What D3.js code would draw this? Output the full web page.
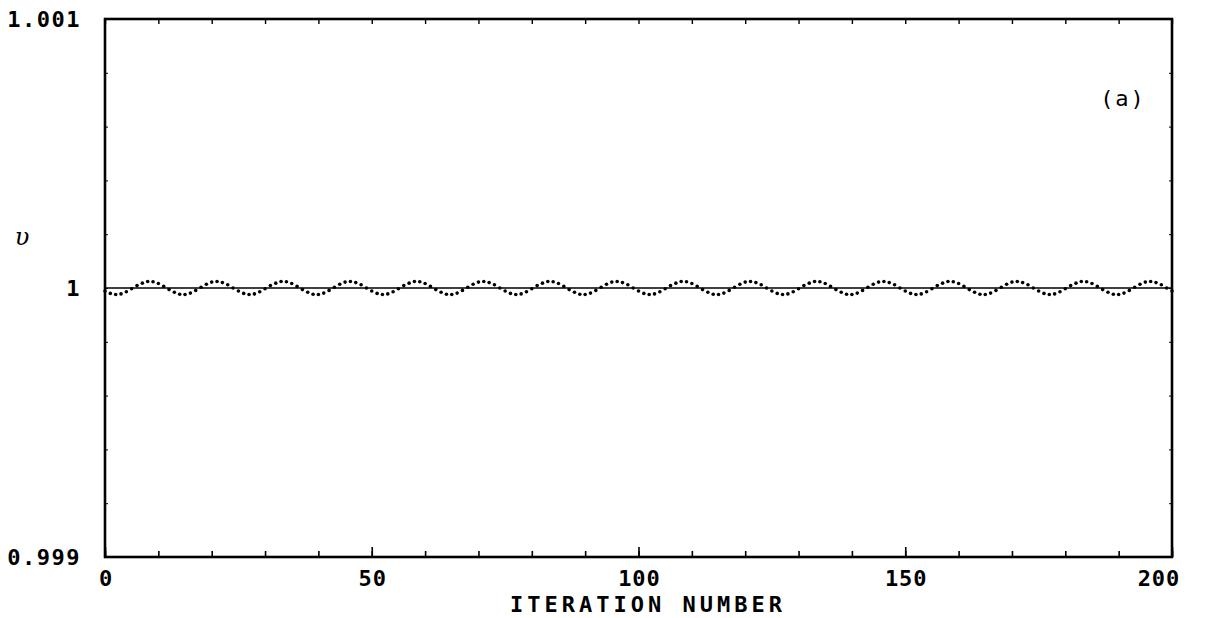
<!DOCTYPE html>
<html>
<head>
<meta charset="utf-8">
<script src="https://cdn.jsdelivr.net/npm/d3@7"></script>
<style>
  html, body { margin: 0; padding: 0; background: #fff; }
  text { font-family: "DejaVu Sans Mono", "Liberation Mono", monospace; fill: #000; }
</style>
</head>
<body>
<svg id="chart" width="1208" height="618"></svg>
<script>
// ---- data ----
const xTickValues = [0, 50, 100, 150, 200];
const xTickLabels = ["0", "50", "100", "150", "200"];
const yTickValues = [0.999, 1, 1.001];
const yTickLabels = ["0.999", "1", "1.001"];
const referenceLevel = [1, 1];            // solid line at nu = 1 (from iteration 0 to 200)
const referenceIters = [0, 200];
// nu at each iteration 0..200 (dotted curve)
const nuValues = [
  0.999989, 0.999980, 0.999976, 0.999978, 0.999986, 0.999997, 1.000009, 1.000018, 1.000024, 1.000023,
  1.000017, 1.000006, 0.999994, 0.999984, 0.999977, 0.999976, 0.999981, 0.999991, 1.000003, 1.000014,
  1.000022, 1.000024, 1.000020, 1.000012, 1.000000, 0.999989, 0.999980, 0.999976, 0.999978, 0.999986,
  0.999997, 1.000009, 1.000018, 1.000024, 1.000023, 1.000017, 1.000006, 0.999994, 0.999984, 0.999977,
  0.999976, 0.999981, 0.999991, 1.000003, 1.000014, 1.000022, 1.000024, 1.000020, 1.000012, 1.000000,
  0.999989, 0.999980, 0.999976, 0.999978, 0.999986, 0.999997, 1.000009, 1.000018, 1.000024, 1.000023,
  1.000017, 1.000006, 0.999994, 0.999984, 0.999977, 0.999976, 0.999981, 0.999991, 1.000003, 1.000014,
  1.000022, 1.000024, 1.000020, 1.000012, 1.000000, 0.999989, 0.999980, 0.999976, 0.999978, 0.999986,
  0.999997, 1.000009, 1.000018, 1.000024, 1.000023, 1.000017, 1.000006, 0.999994, 0.999984, 0.999977,
  0.999976, 0.999981, 0.999991, 1.000003, 1.000014, 1.000022, 1.000024, 1.000020, 1.000012, 1.000000,
  0.999989, 0.999980, 0.999976, 0.999978, 0.999986, 0.999997, 1.000009, 1.000018, 1.000024, 1.000023,
  1.000017, 1.000006, 0.999994, 0.999984, 0.999977, 0.999976, 0.999981, 0.999991, 1.000003, 1.000014,
  1.000022, 1.000024, 1.000020, 1.000012, 1.000000, 0.999989, 0.999980, 0.999976, 0.999978, 0.999986,
  0.999997, 1.000009, 1.000018, 1.000024, 1.000023, 1.000017, 1.000006, 0.999994, 0.999984, 0.999977,
  0.999976, 0.999981, 0.999991, 1.000003, 1.000014, 1.000022, 1.000024, 1.000020, 1.000012, 1.000000,
  0.999989, 0.999980, 0.999976, 0.999978, 0.999986, 0.999997, 1.000009, 1.000018, 1.000024, 1.000023,
  1.000017, 1.000006, 0.999994, 0.999984, 0.999977, 0.999976, 0.999981, 0.999991, 1.000003, 1.000014,
  1.000022, 1.000024, 1.000020, 1.000012, 1.000000, 0.999989, 0.999980, 0.999976, 0.999978, 0.999986,
  0.999997, 1.000009, 1.000018, 1.000024, 1.000023, 1.000017, 1.000006, 0.999994, 0.999984, 0.999977,
  0.999976, 0.999981, 0.999991, 1.000003, 1.000014, 1.000022, 1.000024, 1.000020, 1.000012, 1.000000,
  0.999989
];
const xMinorStep = 10;
const yMinorStep = 0.0002;

// ---- layout ----
const svg = d3.select("#chart");
const L = 105, R = 1172, T = 19, B = 557;
const x = d3.scaleLinear().domain([0, 200]).range([L, R]);
const y = d3.scaleLinear().domain([0.999, 1.001]).range([B, T]);

// frame
svg.append("rect").attr("x", L).attr("y", T).attr("width", R - L).attr("height", B - T)
  .attr("fill", "none").attr("stroke", "#000").attr("stroke-width", 2.6);

const xMinor = d3.range(0, 200 + 1e-9, xMinorStep);
const yMinor = d3.range(0.999, 1.001 + 1e-9, yMinorStep);

function styleAxis(w) {
  return g => {
    g.select(".domain").remove();
    g.selectAll(".tick line").attr("stroke", "#000").attr("stroke-width", w);
    g.selectAll(".tick text").remove();
  };
}
svg.append("g").attr("transform", `translate(0,${B})`)
  .call(d3.axisBottom(x).tickValues(xMinor).tickSize(-6)).call(styleAxis(1.6));
svg.append("g").attr("transform", `translate(0,${B})`)
  .call(d3.axisBottom(x).tickValues(xTickValues).tickSize(-10)).call(styleAxis(1.6));
svg.append("g").attr("transform", `translate(0,${T})`)
  .call(d3.axisTop(x).tickValues(xMinor).tickSize(-5)).call(styleAxis(1.4));
svg.append("g").attr("transform", `translate(${L},0)`)
  .call(d3.axisLeft(y).tickValues(yMinor).tickSize(-3)).call(styleAxis(1));
svg.append("g").attr("transform", `translate(${R},0)`)
  .call(d3.axisRight(y).tickValues(yMinor).tickSize(-3)).call(styleAxis(1));

// reference line at 1
const line = d3.line().x(d => x(d[0])).y(d => y(d[1]));
svg.append("path")
  .datum(referenceIters.map((it, i) => [it, referenceLevel[i]]))
  .attr("d", line).attr("fill", "none").attr("stroke", "#000").attr("stroke-width", 1.4);

// dotted series
svg.append("g").selectAll("circle")
  .data(nuValues)
  .join("circle")
  .attr("cx", (d, i) => x(i))
  .attr("cy", d => y(d))
  .attr("r", 1.8)
  .attr("fill", "#000");

// tick labels
svg.append("g").selectAll("text")
  .data(xTickValues)
  .join("text")
  .attr("x", (d, i) => x(d) + (i === xTickValues.length - 1 ? -13 : 1))
  .attr("y", 586)
  .attr("text-anchor", "middle")
  .attr("font-size", 22)
  .attr("font-weight", "bold")
  .attr("letter-spacing", 1)
  .text((d, i) => xTickLabels[i]);

svg.append("g").selectAll("text")
  .data(yTickValues)
  .join("text")
  .attr("x", 81)
  .attr("y", d => y(d) + 8)
  .attr("text-anchor", "end")
  .attr("font-size", 22)
  .attr("font-weight", "bold")
  .attr("letter-spacing", 1.5)
  .text((d, i) => yTickLabels[i]);

// axis titles
svg.append("text").attr("x", 648).attr("y", 612).attr("text-anchor", "middle")
  .attr("font-size", 22).attr("font-weight", "bold").attr("letter-spacing", 4).text("ITERATION NUMBER");
svg.append("text").attr("x", 22).attr("y", 245).attr("text-anchor", "middle")
  .attr("font-size", 24).attr("font-style", "italic")
  .style("font-family", "'DejaVu Serif', serif").text("υ");
svg.append("text").attr("x", 1123).attr("y", 106).attr("text-anchor", "middle")
  .attr("font-size", 22).attr("letter-spacing", 2).text("(a)");
</script>
</body>
</html>
